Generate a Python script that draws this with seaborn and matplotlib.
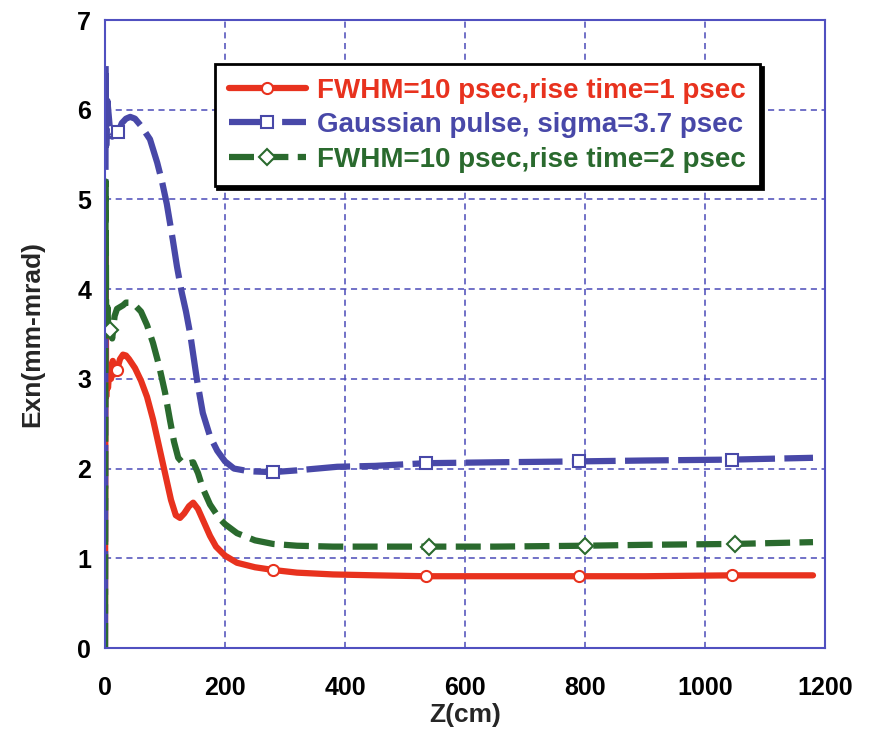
import numpy as np
import pandas as pd
import matplotlib
matplotlib.use("Agg")
import matplotlib.pyplot as plt
import seaborn as sns

# ---- data ----
red_z = [0, 1, 2, 3, 5, 8, 10, 13, 16, 20, 25, 30, 35, 40, 50, 60, 70, 80, 90, 100, 110, 118, 125, 132,
         140, 147, 155, 165, 175, 185, 200, 220, 250, 280, 320, 380, 450, 535, 650, 790, 900, 1045, 1180]
red_y = [0, 4.4, 2.8, 3.1, 2.9, 3.15, 3.0, 3.2, 3.05, 3.1, 3.22, 3.27, 3.26, 3.22, 3.12, 2.98, 2.8, 2.55,
         2.25, 1.95, 1.65, 1.48, 1.45, 1.5, 1.58, 1.62, 1.55, 1.4, 1.25, 1.13, 1.03, 0.95, 0.9, 0.87, 0.84,
         0.82, 0.81, 0.8, 0.8, 0.8, 0.8, 0.81, 0.81]

blue_z = [0, 1, 2, 4, 8, 12, 16, 22, 28, 35, 42, 50, 60, 75, 87, 95, 103, 113, 120, 128, 135, 142, 153,
          163, 175, 187, 200, 215, 240, 280, 320, 387, 450, 535, 650, 790, 900, 1045, 1180]
blue_y = [0, 6.5, 5.6, 6.1, 5.8, 5.7, 5.75, 5.75, 5.85, 5.9, 5.92, 5.9, 5.82, 5.67, 5.41, 5.2, 4.95, 4.55,
          4.25, 3.96, 3.75, 3.5, 3.0, 2.62, 2.36, 2.2, 2.08, 2.0, 1.97, 1.96, 1.98, 2.02, 2.03, 2.06,
          2.07, 2.08, 2.09, 2.1, 2.12]

green_z = [0, 1, 2, 4, 6, 8, 12, 16, 20, 25, 30, 35, 42, 50, 60, 70, 80, 90, 100, 108, 115, 122, 130, 140,
           147, 155, 163, 175, 190, 200, 220, 250, 280, 320, 380, 450, 540, 650, 800, 900, 1050, 1180]
green_y = [0, 5.2, 3.6, 3.8, 3.5, 3.55, 3.45, 3.7, 3.78, 3.8, 3.82, 3.85, 3.85, 3.82, 3.75, 3.6, 3.4, 3.15,
           2.85, 2.55, 2.3, 2.12, 2.06, 2.06, 2.07, 1.95, 1.78, 1.6, 1.45, 1.38, 1.28, 1.2, 1.16, 1.14,
           1.13, 1.13, 1.13, 1.13, 1.14, 1.15, 1.16, 1.18]

red_marks = [20, 280, 535, 790, 1045]
blue_marks = [22, 280, 535, 790, 1045]
green_marks = [8, 540, 800, 1050]

labels = ["FWHM=10 psec,rise time=1 psec",
          "Gaussian pulse, sigma=3.7 psec",
          "FWHM=10 psec,rise time=2 psec"]
x_ticks = [0, 200, 400, 600, 800, 1000, 1200]
y_ticks = [0, 1, 2, 3, 4, 5, 6, 7]

RED = "#e8321e"
BLUE = "#4848a8"
GREEN = "#2a6a2e"

sns.set_theme(style="white")
plt.rcParams["font.family"] = ["Liberation Sans", "DejaVu Sans"]

fig = plt.figure(figsize=(8.84, 7.35), dpi=100)
ax = fig.add_axes([105 / 884, 1 - 648 / 735, 720 / 884, 628 / 735])

series = [
    (red_z, red_y, red_marks, RED, "o", "-", labels[0]),
    (blue_z, blue_y, blue_marks, BLUE, "s", (0, (7, 1.5)), labels[1]),
    (green_z, green_y, green_marks, GREEN, "D", (0, (4, 1.5)), labels[2]),
]
for z, y, marks, col, mk, ls, lab in series:
    df = pd.DataFrame({"z": z, "y": y})
    idx = [z.index(m) for m in marks]
    sns.lineplot(data=df, x="z", y="y", ax=ax, color=col, lw=4.5, linestyle=ls,
                 marker=mk, markevery=idx, markersize=8, markerfacecolor="white",
                 markeredgecolor=col, markeredgewidth=1.5, label=lab,
                 estimator=None, sort=False)

ax.set_xlim(0, 1200)
ax.set_ylim(0, 7)
ax.set_xticks(x_ticks)
ax.set_yticks(y_ticks)
ax.grid(True, color="#4a4ab8", linestyle=(0, (4, 3)), linewidth=1.1)
for sp in ax.spines.values():
    sp.set_color("#5050c0")
    sp.set_linewidth(1.5)
ax.tick_params(axis="x", length=0, labelsize=18, pad=20, labelcolor="black")
ax.tick_params(axis="y", length=0, labelsize=18, pad=10, labelcolor="black")
for t in ax.get_xticklabels() + ax.get_yticklabels():
    t.set_fontweight("bold")
ax.set_xlabel("Z(cm)", fontsize=19, fontweight="bold", labelpad=2)
ax.set_ylabel("Exn(mm-mrad)", fontsize=19, fontweight="bold", labelpad=24)

leg = ax.legend(loc="upper right", bbox_to_anchor=(0.91, 0.93), frameon=True, fancybox=False,
                shadow={"color": "black", "alpha": 1}, edgecolor="black", framealpha=1,
                prop={"weight": "bold", "size": 20}, handlelength=2.8, handletextpad=0.4,
                borderpad=0.5, labelspacing=0.3, borderaxespad=0)
leg.get_frame().set_linewidth(2)
for txt, col in zip(leg.get_texts(), [RED, BLUE, GREEN]):
    txt.set_color(col)

fig.savefig("out.png", dpi=100)
